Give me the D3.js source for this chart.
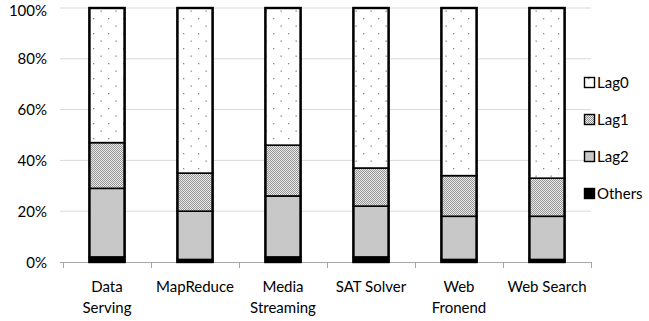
<!DOCTYPE html>
<html><head><meta charset="utf-8">
<script src="https://cdn.jsdelivr.net/npm/d3@7"></script>
<style>body{margin:0;background:#fff}svg{display:block;font-family:Lato,"Open Sans",sans-serif}</style>
</head><body><svg id="c" width="649" height="321"></svg>
<script>
const categories = ["Data Serving","MapReduce","Media Streaming","SAT Solver","Web Fronend","Web Search"];
const categoryLines = [["Data","Serving"],["MapReduce"],["Media","Streaming"],["SAT Solver"],["Web","Fronend"],["Web Search"]];
const seriesNames = ["Others","Lag2","Lag1","Lag0"];
const others = [2, 1, 2, 2, 1, 1];
const lag2   = [27, 19, 24, 20, 17, 17];
const lag1   = [18, 15, 20, 15, 16, 15];
const lag0   = [53, 65, 54, 63, 66, 67];
const yTicks = [0, 20, 40, 60, 80, 100];
const legendOrder = ["Lag0","Lag1","Lag2","Others"];

const svg = d3.select("#c");
const defs = svg.append("defs");
// dotted pattern for Lag0
const p0 = defs.append("pattern").attr("id","pLag0").attr("patternUnits","userSpaceOnUse").attr("width",15).attr("height",15);
p0.append("rect").attr("width",15).attr("height",15).attr("fill","#fff");
p0.append("rect").attr("x",3).attr("y",3).attr("width",1.3).attr("height",1.3).attr("fill","#888");
p0.append("rect").attr("x",10.5).attr("y",10.5).attr("width",1.3).attr("height",1.3).attr("fill","#888");
// checker pattern for Lag1
const p1 = defs.append("pattern").attr("id","pLag1").attr("patternUnits","userSpaceOnUse").attr("width",2).attr("height",2);
p1.append("rect").attr("width",2).attr("height",2).attr("fill","#ececec");
p1.append("rect").attr("x",0).attr("y",0).attr("width",1).attr("height",1).attr("fill","#939393");
p1.append("rect").attr("x",1).attr("y",1).attr("width",1).attr("height",1).attr("fill","#939393");
const fills = {Lag0:"url(#pLag0)", Lag1:"url(#pLag1)", Lag2:"#c8c8c8", Others:"#000"};

const x = d3.scaleBand().domain(categories).range([63, 591]).paddingInner(0).paddingOuter(0);
const y = d3.scaleLinear().domain([0,100]).range([262, 8]);

// gridlines
svg.append("g").selectAll("line").data(yTicks.filter(t=>t>0)).join("line")
  .attr("x1",60).attr("x2",591).attr("y1",d=>y(d)).attr("y2",d=>y(d))
  .attr("stroke","#d9d9d9").attr("stroke-width",1);

// y labels
svg.append("g").selectAll("text").data(yTicks).join("text")
  .attr("x",47).attr("y",d=>Math.max(y(d)+5.5, 16)).attr("text-anchor","end")
  .attr("font-size",15).attr("fill","#000").text(d=>d+"%");

// x axis
const xa = svg.append("g");
xa.append("line").attr("x1",60).attr("x2",591).attr("y1",262.5).attr("y2",262.5).attr("stroke","#a6a6a6");
const bounds = categories.map(c=>x(c)).concat([x.range()[1]]);
xa.selectAll("line.t").data(bounds).join("line").attr("class","t")
  .attr("x1",d=>d+0.5).attr("x2",d=>d+0.5).attr("y1",262).attr("y2",268).attr("stroke","#a6a6a6");

// stacked data
const rows = categories.map((c,i)=>({cat:c, Others:others[i], Lag2:lag2[i], Lag1:lag1[i], Lag0:lag0[i]}));
const stack = d3.stack().keys(seriesNames)(rows);
const bw = x.bandwidth()*0.4;
const bars = svg.append("g");
stack.forEach(s=>{
  bars.selectAll(null).data(s).join("rect")
    .attr("x",d=>x(d.data.cat)+(x.bandwidth()-bw)/2)
    .attr("width",bw)
    .attr("y",d=>y(Math.min(d[1],100)))
    .attr("height",d=>y(d[0])-y(Math.min(d[1],100)))
    .attr("fill",fills[s.key]).attr("stroke","#000").attr("stroke-width",1.6);
});
// outer outline
bars.selectAll("rect.o").data(rows).join("rect").attr("class","o")
  .attr("x",d=>x(d.cat)+(x.bandwidth()-bw)/2).attr("width",bw)
  .attr("y",y(100)).attr("height",y(0)-y(100))
  .attr("fill","none").attr("stroke","#000").attr("stroke-width",2.4);

// x labels
const xl = svg.append("g");
categories.forEach((c,i)=>{
  const t = xl.append("text").attr("text-anchor","middle").attr("font-size",15).attr("fill","#000");
  categoryLines[i].forEach((ln,j)=>{
    t.append("tspan").attr("x",x(c)+x.bandwidth()/2).attr("y",292+j*21).text(ln);
  });
});

// legend
const lg = svg.append("g");
legendOrder.forEach((k,i)=>{
  const cy = 83 + i*37;
  lg.append("rect").attr("x",584.5).attr("y",cy-5.5).attr("width",10).attr("height",10)
    .attr("fill",fills[k]).attr("stroke","#000").attr("stroke-width",1.4);
  lg.append("text").attr("x",597).attr("y",cy).attr("dy","0.35em").attr("font-size",15).attr("fill","#000").text(k);
});
</script></body></html>
